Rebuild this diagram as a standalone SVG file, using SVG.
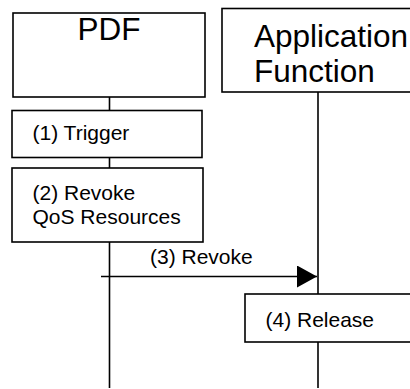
<svg xmlns="http://www.w3.org/2000/svg" width="410" height="389" viewBox="0 0 410 389">
<style>
.box{fill:#fff;stroke:#000;stroke-width:1.6}
.life{stroke:#000;stroke-width:1.6;fill:none}
.t{font-family:"Liberation Sans",Arial,sans-serif;fill:#000}
.big{font-size:31.5px}
.sm{font-size:21px}
</style>
<defs>
<marker id="ah" markerUnits="userSpaceOnUse" markerWidth="21" markerHeight="22" refX="20" refY="11" orient="auto">
<path d="M0,0 L20,11 L0,22 Z" fill="#000"/>
</marker>
</defs>
<g id="connectors">
<line class="life" x1="109.5" y1="97" x2="109.5" y2="388"/>
<line class="life" x1="318" y1="92" x2="318" y2="388"/>
<line class="life" x1="101" y1="276.5" x2="317" y2="276.5" marker-end="url(#ah)"/>
<text class="t sm" x="150" y="264">(3) Revoke</text>
</g>
<g id="pdf">
<rect class="box" x="13" y="13" width="192" height="84"/>
<text class="t big" x="109" y="39.5" text-anchor="middle">PDF</text>
</g>
<g id="af">
<rect class="box" x="222" y="8.5" width="200" height="83.5"/>
<text class="t big" x="254" y="46.5">Application</text>
<text class="t big" x="254" y="81.5">Function</text>
</g>
<g id="trigger">
<rect class="box" x="12" y="110.5" width="190" height="47"/>
<text class="t sm" x="32.5" y="140">(1) Trigger</text>
</g>
<g id="revoke">
<rect class="box" x="12" y="168" width="191" height="74"/>
<text class="t sm" x="32.5" y="199.5">(2) Revoke</text>
<text class="t sm" x="32.5" y="223.5">QoS Resources</text>
</g>
<g id="release">
<rect class="box" x="245" y="294" width="180" height="48"/>
<text class="t sm" x="265.5" y="326.5">(4) Release</text>
</g>
</svg>
